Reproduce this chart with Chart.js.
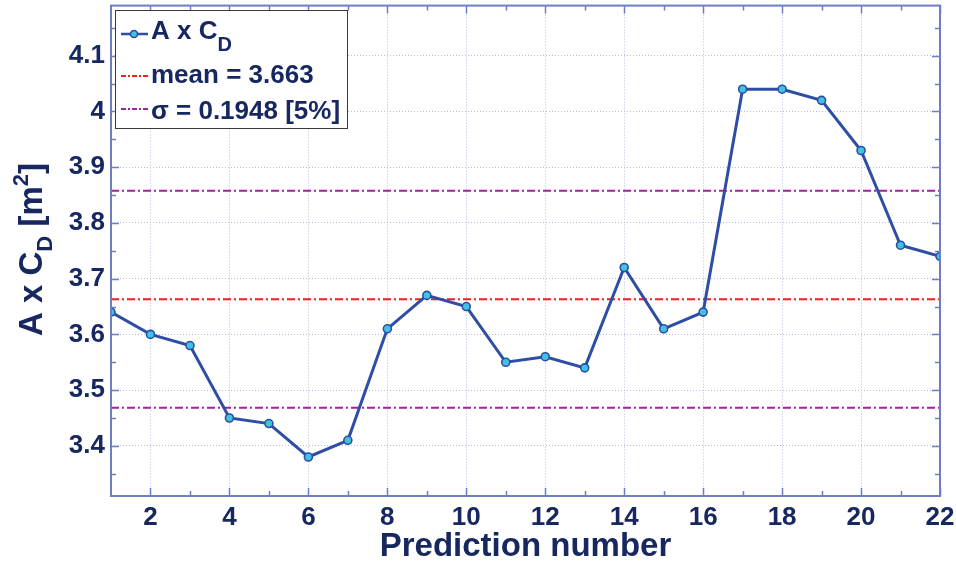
<!DOCTYPE html>
<html>
<head>
<meta charset="utf-8">
<script src="https://cdn.jsdelivr.net/npm/chart.js@4/dist/chart.umd.min.js"></script>
<style>
  html, body { margin: 0; padding: 0; background: #fff; }
</style>
</head>
<body>
<canvas id="myChart" width="956" height="563"></canvas>
<script>
const predictions = [1, 2, 3, 4, 5, 6, 7, 8, 9, 10, 11, 12, 13, 14, 15, 16, 17, 18, 19, 20, 21, 22];
const acdValues = [3.64, 3.60, 3.58, 3.45, 3.44, 3.38, 3.41, 3.61, 3.67, 3.65, 3.55,
                   3.56, 3.54, 3.72, 3.61, 3.64, 4.04, 4.04, 4.02, 3.93, 3.76, 3.74];
const meanValue = 3.663;
const sigmaValue = 0.1948;
const sigmaPercent = '5%';

const xTicks = [2, 4, 6, 8, 10, 12, 14, 16, 18, 20, 22];
const xMinorTicks = [3, 5, 7, 9, 11, 13, 15, 17, 19, 21];
const yTicks = [3.4, 3.5, 3.6, 3.7, 3.8, 3.9, 4.0, 4.1];
const yMinorTicks = [3.35, 3.45, 3.55, 3.65, 3.75, 3.85, 3.95, 4.05, 4.15];

const navy = '#172861';
const lineBlue = '#2d4ea4';
const markerFill = '#41c2e2';
const meanRed = '#f01e1e';
const sigmaPurple = '#a4219c';
const axisColor = '#6f7ec0';
const gridColor = '#b4bedd';
const dashDot = [8, 3, 2, 3];
const fontFamily = "'Liberation Sans', Arial, sans-serif";

// horizontal reference line spanning the whole x range
const hLine = v => [{x: predictions[0], y: v}, {x: predictions[predictions.length - 1], y: v}];

const data = {
  datasets: [
    {
      label: 'A x C_D',
      data: predictions.map((p, i) => ({x: p, y: acdValues[i]})),
      borderColor: lineBlue,
      borderWidth: 3,
      pointRadius: 4,
      pointBorderWidth: 1.6,
      pointBackgroundColor: markerFill,
      pointBorderColor: lineBlue,
      tension: 0,
      order: 0
    },
    {
      label: 'mean',
      data: hLine(meanValue),
      borderColor: meanRed,
      borderWidth: 2,
      borderDash: dashDot,
      pointRadius: 0,
      order: 1
    },
    {
      label: 'sigma+',
      data: hLine(meanValue + sigmaValue),
      borderColor: sigmaPurple,
      borderWidth: 2,
      borderDash: dashDot,
      pointRadius: 0,
      order: 1
    },
    {
      label: 'sigma-',
      data: hLine(meanValue - sigmaValue),
      borderColor: sigmaPurple,
      borderWidth: 2,
      borderDash: dashDot,
      pointRadius: 0,
      order: 1
    }
  ]
};

// box, inward tick marks and minor ticks on all four sides
const frame = {
  id: 'frame',
  afterDraw(chart) {
    const {ctx, chartArea: {left, right, top, bottom}, scales: {x, y}} = chart;
    ctx.save();
    ctx.strokeStyle = axisColor;
    ctx.lineWidth = 1.5;
    ctx.beginPath();
    const xMarks = (values, len) => values.forEach(v => {
      const px = Math.round(x.getPixelForValue(v)) + 0.5;
      ctx.moveTo(px, bottom); ctx.lineTo(px, bottom - len);
      ctx.moveTo(px, top); ctx.lineTo(px, top + len);
    });
    const yMarks = (values, len) => values.forEach(v => {
      const py = Math.round(y.getPixelForValue(v)) + 0.5;
      ctx.moveTo(left, py); ctx.lineTo(left + len, py);
      ctx.moveTo(right, py); ctx.lineTo(right - len, py);
    });
    xMarks(xTicks, 8);
    xMarks(xMinorTicks, 5);
    yMarks(yTicks, 8);
    yMarks(yMinorTicks, 5);
    ctx.stroke();
    ctx.lineWidth = 2;
    ctx.strokeRect(left, top, right - left, bottom - top);
    ctx.restore();
  }
};

// text with an optional sub/superscript part, returns end x
function drawRich(ctx, parts, x, y) {
  parts.forEach(p => {
    ctx.font = 'bold ' + p.size + 'px ' + fontFamily;
    ctx.fillText(p.text, x, y + (p.dy || 0));
    x += ctx.measureText(p.text).width;
  });
  return x;
}

// rotated y axis title with subscript and superscript
const yTitle = {
  id: 'yTitle',
  afterDraw(chart) {
    const ctx = chart.ctx;
    ctx.save();
    ctx.translate(42, 336);
    ctx.rotate(-Math.PI / 2);
    ctx.fillStyle = navy;
    ctx.textAlign = 'left';
    ctx.textBaseline = 'alphabetic';
    drawRich(ctx, [
      {text: 'A x C', size: 33},
      {text: 'D', size: 22, dy: 10},
      {text: ' [m', size: 33},
      {text: '2', size: 22, dy: -14},
      {text: ']', size: 33}
    ], 0, 0);
    ctx.restore();
  }
};

// legend box in the upper left corner
const customLegend = {
  id: 'customLegend',
  afterDraw(chart) {
    const ctx = chart.ctx;
    ctx.save();
    ctx.fillStyle = '#fff';
    ctx.fillRect(115, 10, 232, 118);
    ctx.strokeStyle = '#3a3a3a';
    ctx.lineWidth = 1;
    ctx.strokeRect(115.5, 10.5, 232, 118);

    const sample = (yy, color, dash, width) => {
      ctx.strokeStyle = color;
      ctx.lineWidth = width;
      ctx.setLineDash(dash);
      ctx.beginPath();
      ctx.moveTo(121, yy); ctx.lineTo(148, yy);
      ctx.stroke();
      ctx.setLineDash([]);
    };

    sample(34, lineBlue, [], 2.5);
    ctx.beginPath();
    ctx.arc(134, 34, 3.5, 0, Math.PI * 2);
    ctx.fillStyle = markerFill;
    ctx.fill();
    ctx.lineWidth = 1.6;
    ctx.strokeStyle = lineBlue;
    ctx.stroke();
    sample(76, meanRed, [5, 2, 2, 2], 2);
    sample(109, sigmaPurple, [5, 2, 2, 2], 2);

    ctx.fillStyle = navy;
    ctx.textAlign = 'left';
    ctx.textBaseline = 'alphabetic';
    drawRich(ctx, [
      {text: 'A x C', size: 26},
      {text: 'D', size: 20, dy: 12}
    ], 151, 39);
    drawRich(ctx, [{text: 'mean = ' + meanValue.toFixed(3), size: 26}], 151, 83);
    drawRich(ctx, [{text: '\u03c3 = ' + sigmaValue + ' [' + sigmaPercent + ']', size: 26}], 151, 119);
    ctx.restore();
  }
};

const config = {
  type: 'line',
  data,
  options: {
    responsive: false,
    animation: false,
    layout: {padding: {left: 0, right: 16, top: 5, bottom: 0}},
    scales: {
      x: {
        type: 'linear',
        min: 1,
        max: 22,
        afterBuildTicks: scale => { scale.ticks = xTicks.map(v => ({value: v})); },
        afterFit: scale => {
          scale.height = 67;
          scale.paddingLeft = 0;
          scale.paddingRight = 0;
        },
        grid: {color: gridColor, lineWidth: 1, drawTicks: false},
        border: {display: false, dash: [1, 2]},
        ticks: {
          padding: 6,
          color: navy,
          font: {family: fontFamily, size: 26, weight: 'bold'},
          maxRotation: 0,
          callback: v => String(v)
        },
        title: {
          display: true,
          text: 'Prediction number',
          color: navy,
          font: {family: fontFamily, size: 33, weight: 'bold', lineHeight: 1.0},
          padding: {top: 2, bottom: 0}
        }
      },
      y: {
        min: 3.31,
        max: 4.19,
        afterBuildTicks: scale => { scale.ticks = yTicks.map(v => ({value: v})); },
        afterFit: scale => {
          scale.width = 111;
          scale.paddingTop = 0;
          scale.paddingBottom = 0;
        },
        grid: {color: gridColor, lineWidth: 1, drawTicks: false},
        border: {display: false, dash: [1, 2]},
        ticks: {
          padding: 6,
          color: navy,
          font: {family: fontFamily, size: 26, weight: 'bold'},
          callback: v => String(Math.round(v * 10) / 10)
        }
      }
    },
    plugins: {
      legend: {display: false},
      tooltip: {enabled: false}
    }
  },
  plugins: [frame, yTitle, customLegend]
};

const myChart = new Chart(document.getElementById('myChart'), config);
</script>
</body>
</html>
